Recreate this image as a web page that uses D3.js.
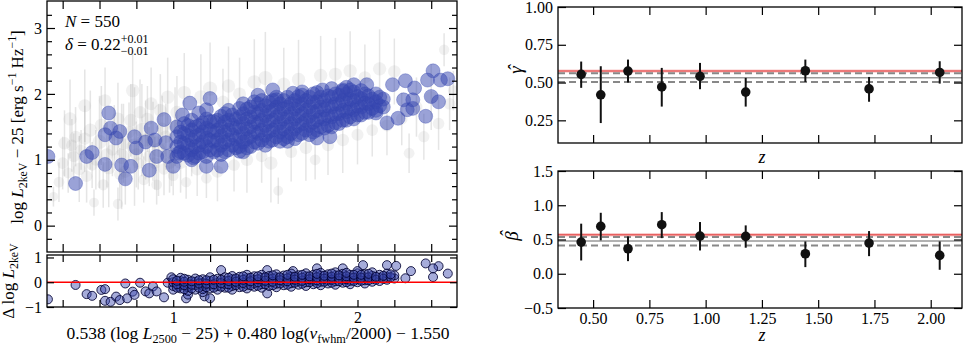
<!DOCTYPE html>
<html>
<head>
<meta charset="utf-8">
<script src="https://cdn.jsdelivr.net/npm/d3@7"></script>
<style>
  body { margin: 0; background: #fff; }
  svg { display: block; }
</style>
</head>
<body>
<script>
// ---- data ----
// left panel: grey comparison sample [x, y, yerr]
var greyPts = [
  [0.35,0.44,0.15],[0.38,0.66,0.3],[0.40,0.95,0.4],[0.41,1.25,0.5],[0.43,0.80,0.3],[0.44,1.62,0.6],
  [0.46,1.05,0.35],[0.47,1.35,0.45],[0.49,0.86,0.5],[0.50,1.15,0.3],[0.52,1.82,0.55],[0.53,0.75,0.4],
  [0.55,1.45,0.6],[0.57,0.35,0.2],[0.58,1.00,0.45],[0.60,1.27,0.7],[0.62,0.62,0.35],[0.63,1.90,0.5],
  [0.65,0.88,0.6],[0.67,1.15,0.4],[0.70,0.33,0.25],[0.70,1.62,0.55],[0.72,1.05,0.8],[0.74,0.82,0.5],
  [0.76,1.42,0.45],[0.78,2.05,0.6],[0.79,1.20,0.9],[0.81,0.95,0.4],[0.82,1.72,0.5],[0.84,0.70,0.35],
  [0.85,1.30,0.6],[0.87,1.05,0.45],[0.88,1.85,0.55],[0.91,0.62,0.3],[0.92,1.15,0.7],[0.94,1.47,0.5],
  [0.95,0.86,0.4],[0.97,1.95,0.6],[0.99,1.10,0.5],[1.00,0.76,0.3],[1.02,1.72,0.55],[1.04,0.95,0.45],
  [1.06,2.02,0.6],[1.07,0.66,0.25],[1.10,1.25,0.5],[1.13,0.85,0.4],[1.15,1.95,0.65],[1.18,0.72,0.3],
  [1.20,2.08,0.7],[1.24,0.82,0.45],[1.27,1.88,0.5],[1.30,2.12,0.6],[1.33,0.92,0.4],[1.36,2.00,0.55],
  [1.40,1.00,0.5],[1.44,2.18,0.65],[1.48,1.05,0.4],[1.50,2.24,0.7],[1.53,0.95,0.6],[1.57,0.53,0.2],
  [1.60,2.15,0.55],[1.64,1.12,0.45],[1.68,2.22,0.6],[1.72,1.18,0.5],[1.77,1.00,0.3],[1.80,2.28,0.6],
  [1.84,1.22,0.45],[1.88,2.30,0.55],[1.92,1.30,0.5],[1.96,2.35,0.6],[2.00,1.38,0.45],[2.04,2.25,0.5],
  [2.08,1.45,0.4],[2.12,2.38,0.6],[2.16,1.52,0.45],[2.20,2.34,0.5],[2.24,1.62,0.4],[2.28,1.10,0.3],
  [2.32,1.80,0.45],[2.36,1.35,0.35],[2.40,1.95,0.5],[2.44,1.55,0.4],[2.47,2.67,0.25],[2.50,1.85,0.4],
  [2.52,2.05,0.3],
  [0.45,1.22,0.4],[0.52,1.32,0.5],[0.56,0.92,0.35],[0.61,1.52,0.6],[0.64,1.08,0.5],[0.68,1.38,0.45],
  [0.71,0.78,0.4],[0.73,1.25,0.6],[0.77,1.60,0.55],[0.80,1.08,0.5],[0.83,1.45,0.7],[0.86,1.62,0.5],
  [0.89,1.28,0.6],[0.90,0.95,0.4],[0.93,1.75,0.55],[0.96,1.35,0.5],[0.98,0.95,0.45],[1.01,1.50,0.6]
];

// left panel: blue sample, isolated points [x, y]
var bluePts = [
  [0.32,1.05],[0.47,0.64],[0.53,1.05],[0.56,1.11],[0.63,0.93],[0.63,1.38],[0.65,1.71],[0.66,1.48],
  [0.69,1.33],[0.71,1.43],[0.72,0.92],[0.74,0.71],[0.77,0.90],[0.79,1.35],[0.80,1.18],[0.85,1.27],
  [0.87,0.84],[0.88,1.48],[0.90,1.30],[0.91,1.05],[0.95,1.61],[0.96,1.26],[0.97,1.05],[1.00,0.90],
  [1.03,1.10],[1.05,1.68],[1.09,1.86],[1.14,1.71],[1.18,1.76],[1.20,1.93],[1.18,0.90],[1.26,0.90],
  [1.11,1.03],[1.36,1.13],[1.54,2.06],[1.56,1.91],[1.65,2.01],[1.70,2.03],[1.62,1.28],[1.78,1.33],
  [1.85,1.35],[1.81,2.06],[1.92,2.06],[1.98,2.14],[2.05,2.14],[2.10,1.71],[2.16,1.56],[2.19,2.14],
  [2.22,1.63],[2.26,2.20],[2.27,1.76],[2.30,1.78],[2.31,2.09],[2.30,1.91],[2.25,1.91],[2.37,1.66],
  [2.38,2.21],[2.41,2.35],[2.40,1.96],[2.44,1.88],[2.45,2.21],[2.49,2.23]
];

// left panel: blue sample inside the dense band, one column per x
var blueCols = [
  [1.02,[1.05,1.20,1.35,1.50]], [1.06,[1.10,1.25,1.40,1.55]], [1.10,[1.00,1.15,1.30,1.45,1.60]],
  [1.14,[1.10,1.22,1.38,1.52]], [1.18,[1.05,1.20,1.33,1.48,1.62]], [1.22,[1.12,1.28,1.42,1.58]],
  [1.26,[1.08,1.22,1.36,1.50,1.66]], [1.30,[1.15,1.30,1.45,1.60,1.75]], [1.34,[1.18,1.32,1.48,1.62]],
  [1.38,[1.12,1.27,1.40,1.55,1.70,1.85]], [1.42,[1.20,1.35,1.50,1.65,1.80]],
  [1.46,[1.25,1.40,1.55,1.70,1.85,1.98]], [1.50,[1.22,1.37,1.52,1.67,1.82]],
  [1.54,[1.30,1.45,1.60,1.75,1.90]], [1.58,[1.28,1.42,1.56,1.70,1.85]], [1.62,[1.35,1.50,1.65,1.80,1.95]],
  [1.66,[1.32,1.47,1.62,1.77,1.90]], [1.70,[1.40,1.55,1.70,1.85,1.98]], [1.74,[1.38,1.52,1.66,1.80,1.95]],
  [1.78,[1.45,1.60,1.74,1.88,2.02]], [1.82,[1.48,1.62,1.76,1.90]], [1.86,[1.50,1.65,1.80,1.95,2.08]],
  [1.90,[1.55,1.70,1.84,1.98]], [1.94,[1.60,1.73,1.86,2.00,2.10]], [1.98,[1.62,1.76,1.90,2.03]],
  [2.02,[1.68,1.80,1.93,2.05]], [2.06,[1.72,1.85,1.97]], [2.10,[1.75,1.88,2.00]], [2.14,[1.80,1.92]],
  [1.04,[1.12,1.27,1.42]], [1.08,[1.07,1.22,1.37,1.52]], [1.12,[1.05,1.20,1.35,1.50]],
  [1.16,[1.12,1.27,1.42,1.56]], [1.20,[1.15,1.30,1.45,1.58]], [1.24,[1.15,1.30,1.45,1.60]],
  [1.28,[1.12,1.27,1.42,1.57,1.70]], [1.32,[1.22,1.38,1.53,1.68]], [1.36,[1.20,1.35,1.50,1.65,1.78]],
  [1.40,[1.18,1.32,1.47,1.62,1.77]], [1.44,[1.27,1.42,1.57,1.72,1.88]], [1.48,[1.30,1.45,1.60,1.75,1.90]],
  [1.52,[1.28,1.43,1.58,1.73,1.87]], [1.56,[1.35,1.50,1.65,1.80,1.95]], [1.60,[1.32,1.47,1.62,1.77,1.90]],
  [1.64,[1.40,1.55,1.70,1.85]], [1.68,[1.38,1.52,1.67,1.82,1.96]], [1.72,[1.45,1.60,1.75,1.90]],
  [1.76,[1.42,1.57,1.72,1.87,2.00]], [1.80,[1.50,1.65,1.80,1.95]], [1.84,[1.52,1.67,1.82,1.97]],
  [1.88,[1.56,1.70,1.85,2.00]], [1.92,[1.60,1.75,1.90,2.04]], [1.96,[1.65,1.78,1.92,2.06]],
  [2.00,[1.68,1.82,1.96]], [2.04,[1.72,1.86,2.00]], [2.08,[1.78,1.92]], [2.12,[1.82,1.95]]
];

// residual panel: isolated points [x, dy]
var residPts = [
  [0.32,-0.69],[0.47,-0.11],[0.53,-0.48],[0.56,-0.55],[0.61,-0.31],[0.63,-0.28],[0.63,-0.75],[0.66,-0.79],
  [0.69,-0.58],[0.71,-0.72],[0.74,-0.05],[0.75,-0.65],[0.78,-0.38],[0.79,-0.51],[0.82,-0.02],[0.85,-0.37],
  [0.87,-0.45],[0.89,-0.17],[0.91,-0.37],[0.95,-0.61],[0.97,-0.02],[0.99,0.20],[1.03,-0.17],[1.07,-0.65],
  [1.08,-0.50],[1.17,-0.57],[1.20,-0.65],[1.26,0.49],[1.51,-0.45],[1.51,0.49],[1.65,0.45],[1.78,0.56],
  [1.92,0.56],[2.03,0.69],[2.16,0.69],[2.21,0.66],[2.26,0.16],[2.29,0.45],[2.37,0.76],[2.41,0.21],
  [2.44,0.65],[2.49,0.35],[2.41,0.56]
];

// residual panel: dense band, one column per x
var residCols = [
  [1.00,[-0.30,-0.15,0.00,0.12]], [1.04,[-0.25,-0.10,0.05,0.18]], [1.08,[-0.35,-0.20,-0.05,0.10]],
  [1.12,[-0.30,-0.12,0.02,0.15]], [1.16,[-0.40,-0.28,-0.15,-0.02,0.12]], [1.20,[-0.25,-0.10,0.05,0.20]],
  [1.24,[-0.30,-0.15,0.00,0.14]], [1.28,[-0.22,-0.08,0.06,0.20]], [1.32,[-0.30,-0.15,-0.02,0.12,0.25]],
  [1.36,[-0.20,-0.06,0.08,0.22]], [1.40,[-0.25,-0.10,0.03,0.16,0.30]], [1.44,[-0.18,-0.04,0.10,0.24]],
  [1.48,[-0.22,-0.08,0.05,0.18,0.30]], [1.52,[-0.15,0.00,0.12,0.25]], [1.56,[-0.20,-0.06,0.08,0.20,0.32]],
  [1.60,[-0.12,0.02,0.14,0.27]], [1.64,[-0.18,-0.04,0.10,0.22,0.35]], [1.68,[-0.10,0.04,0.16,0.28]],
  [1.72,[-0.15,0.00,0.12,0.24,0.36]], [1.76,[-0.08,0.06,0.18,0.30]], [1.80,[-0.12,0.02,0.14,0.26,0.38]],
  [1.84,[-0.05,0.08,0.20,0.32]], [1.88,[-0.10,0.04,0.16,0.28,0.40]], [1.92,[-0.02,0.10,0.22,0.34]],
  [1.96,[-0.08,0.06,0.18,0.30]], [2.00,[0.00,0.12,0.24,0.36,0.45]], [2.04,[-0.05,0.08,0.20,0.32]],
  [2.08,[0.02,0.14,0.26,0.40]], [2.12,[0.05,0.18,0.30]], [2.16,[0.10,0.22,0.35]], [2.20,[0.15,0.28]],
  [1.02,[-0.22,-0.08,0.06]], [1.06,[-0.28,-0.12,0.02,0.14]], [1.10,[-0.25,-0.10,0.04]],
  [1.14,[-0.22,-0.05,0.08]], [1.18,[-0.20,-0.06,0.08]], [1.22,[-0.22,-0.08,0.10]],
  [1.26,[-0.18,-0.04,0.10]], [1.30,[-0.22,-0.08,0.05,0.18]], [1.34,[-0.12,0.02,0.15]],
  [1.38,[-0.18,-0.03,0.10,0.24]], [1.42,[-0.12,0.04,0.18]], [1.46,[-0.14,0.00,0.12,0.24]],
  [1.50,[-0.08,0.06,0.20]], [1.54,[-0.12,0.02,0.15,0.28]], [1.58,[-0.05,0.08,0.20]],
  [1.62,[-0.10,0.04,0.16,0.30]], [1.66,[-0.02,0.10,0.22]], [1.70,[-0.06,0.06,0.18,0.30]],
  [1.74,[0.00,0.12,0.24]], [1.78,[-0.04,0.08,0.20,0.34]], [1.82,[0.02,0.14,0.26]],
  [1.86,[-0.02,0.10,0.22,0.35]], [1.90,[0.04,0.16,0.28]], [1.94,[0.00,0.12,0.24,0.38]],
  [1.98,[0.05,0.18,0.30]], [2.02,[0.06,0.18,0.30]], [2.06,[0.08,0.20,0.34]], [2.10,[0.10,0.22]],
  [2.14,[0.14,0.26]], [2.18,[0.20,0.32]]
];

// right panels: redshift bins
var zBins    = [0.447, 0.534, 0.655, 0.805, 0.975, 1.178, 1.443, 1.726, 2.040];
var gammaVal = [0.554, 0.419, 0.576, 0.471, 0.541, 0.437, 0.578, 0.458, 0.567];
var gammaHi  = [0.639, 0.608, 0.652, 0.597, 0.630, 0.531, 0.652, 0.537, 0.641];
var gammaLo  = [0.465, 0.232, 0.500, 0.341, 0.456, 0.341, 0.504, 0.373, 0.493];
var betaVal  = [0.462, 0.691, 0.365, 0.716, 0.550, 0.545, 0.292, 0.448, 0.268];
var betaHi   = [0.731, 0.890, 0.545, 0.900, 0.755, 0.706, 0.472, 0.623, 0.472];
var betaLo   = [0.194, 0.487, 0.184, 0.520, 0.340, 0.380, 0.097, 0.257, 0.058];
// global fit: [lo, best, hi]
var gammaRed  = [0.566, 0.576, 0.586];
var gammaGrey = [0.503, 0.532, 0.561];
var betaRed   = [0.545, 0.570, 0.592];
var betaGrey  = [0.414, 0.477, 0.535];

var mainXTicks = [0.4,0.6,0.8,1.0,1.2,1.4,1.6,1.8,2.0,2.2,2.4];
var mainYMajor = [0,1,2,3];
var mainYMinor = [-0.2,0.2,0.4,0.6,0.8,1.2,1.4,1.6,1.8,2.2,2.4,2.6,2.8,3.2];
var residYTicks = [-1,0,1];
var zTicks = [0.5,0.75,1.0,1.25,1.5,1.75,2.0];
var gammaTicks = [0.25,0.5,0.75,1.0];
var betaTicks = [-0.5,0,0.5,1.0,1.5];

// ---- setup ----
var FONT = "'Liberation Serif', 'DejaVu Serif', serif";
var svg = d3.select("body").append("svg").attr("width", 964).attr("height", 345);

function flatCols(cols) {
  return d3.merge(cols.map(function(c) { return c[1].map(function(v) { return [c[0], v]; }); }));
}
var blueAll = bluePts.concat(flatCols(blueCols));
var residAll = residPts.concat(flatCols(residCols));

// scales
var x = d3.scaleLinear().domain([0.315, 2.54]).range([47, 457]);
var y = d3.scaleLinear().domain([-0.4, 3.41]).range([252, 1]);
var yr = d3.scaleLinear().domain([-1, 1.1]).range([307, 255]);
var xz = d3.scaleLinear().domain([0.344, 2.139]).range([558, 962]);
var yg = d3.scaleLinear().domain([0.1, 1.0]).range([143, 7]);
var yb = d3.scaleLinear().domain([-0.5, 1.5]).range([308, 171]);
var rGrey = d3.scaleLinear().domain([0.1, 0.9]).range([4.5, 8]);

function clip(id, xs, ys) {
  svg.append("clipPath").attr("id", id).append("rect")
    .attr("x", xs.range()[0]).attr("y", ys.range()[1])
    .attr("width", xs.range()[1] - xs.range()[0]).attr("height", ys.range()[0] - ys.range()[1]);
}
clip("cmain", x, y);
clip("cres", x, yr);

// axis with inward ticks
function addAxis(kind, scale, pos, vals, len, fmt) {
  var horiz = (kind === d3.axisBottom || kind === d3.axisTop);
  var ax = kind(scale).tickValues(vals).tickSizeInner(-len).tickSizeOuter(0).tickPadding(5)
    .tickFormat(fmt || function() { return ""; });
  var g = svg.append("g")
    .attr("transform", horiz ? "translate(0," + pos + ")" : "translate(" + pos + ",0)")
    .call(ax);
  g.select(".domain").remove();
  g.selectAll("line").attr("stroke", "#000").attr("stroke-width", 1.2);
  g.selectAll("text").attr("font-family", FONT).attr("font-size", 16).attr("fill", "#000");
  return g;
}
function fourSides(xs, ys, xv, yv, len, xfmt, yfmt) {
  addAxis(d3.axisBottom, xs, ys.range()[0], xv, len, xfmt);
  addAxis(d3.axisTop, xs, ys.range()[1], xv, len);
  addAxis(d3.axisLeft, ys, xs.range()[0], yv, len, yfmt);
  addAxis(d3.axisRight, ys, xs.range()[1], yv, len);
}
function frame(xs, ys) {
  svg.append("rect")
    .attr("x", xs.range()[0]).attr("y", ys.range()[1])
    .attr("width", xs.range()[1] - xs.range()[0]).attr("height", ys.range()[0] - ys.range()[1])
    .attr("fill", "none").attr("stroke", "#000").attr("stroke-width", 1.3);
}
var minus = function(v) { return String(v).replace("-", "\u2212"); };

// rich text: parts [{t, s: 'sub'|'sup', i: italic}]
function rich(sel, parts, fs) {
  var off = 0;
  parts.forEach(function(p) {
    var tgt = p.s === "sub" ? fs * 0.22 : p.s === "sup" ? -fs * 0.4 : 0;
    var sp = sel.append("tspan").text(p.t).attr("dy", tgt - off);
    off = tgt;
    if (p.s) sp.attr("font-size", fs * 0.7);
    if (p.i) sp.attr("font-style", "italic");
  });
}

// ---- main panel ----
var gm = svg.append("g").attr("clip-path", "url(#cmain)");

gm.selectAll(".gerr").data(greyPts).enter().append("line")
  .attr("x1", function(d) { return x(d[0]); }).attr("x2", function(d) { return x(d[0]); })
  .attr("y1", function(d) { return y(d[1] - d[2]); }).attr("y2", function(d) { return y(d[1] + d[2]); })
  .attr("stroke", "#aaa").attr("stroke-opacity", 0.3).attr("stroke-width", 1.5);
gm.selectAll(".gpt").data(greyPts).enter().append("circle")
  .attr("cx", function(d) { return x(d[0]); }).attr("cy", function(d) { return y(d[1]); })
  .attr("r", function(d) { return rGrey(d[2]); })
  .attr("fill", "#999").attr("fill-opacity", 0.14);

gm.selectAll(".bpt").data(blueAll).enter().append("circle")
  .attr("cx", function(d) { return x(d[0]); }).attr("cy", function(d) { return y(d[1]); })
  .attr("r", 7)
  .attr("fill", "#3545b0").attr("fill-opacity", 0.5)
  .attr("stroke", "#3545b0").attr("stroke-opacity", 0.35).attr("stroke-width", 1);

fourSides(x, y, mainXTicks, mainYMajor, 8, null, function(d) { return d; });
addAxis(d3.axisLeft, y, 47, mainYMinor, 5);
addAxis(d3.axisRight, y, 457, mainYMinor, 5);
frame(x, y);

// annotations
var t1 = svg.append("text").attr("x", 65).attr("y", 27).attr("font-family", FONT).attr("font-size", 17);
rich(t1, [{t: "N", i: true}, {t: " = 550"}], 17);
var t2 = svg.append("text").attr("x", 65).attr("y", 50).attr("font-family", FONT).attr("font-size", 17);
t2.append("tspan").text("\u03b4").attr("font-style", "italic");
t2.append("tspan").text(" = 0.22");
var sup = t2.append("tspan").text("+0.01").attr("font-size", 12).attr("dy", -7);
var w = sup.node().getComputedTextLength();
t2.append("tspan").text("\u22120.01").attr("font-size", 12).attr("dy", 12).attr("dx", -w);

var ylab = svg.append("text").attr("transform", "translate(23,127) rotate(-90)")
  .attr("text-anchor", "middle").attr("font-family", FONT).attr("font-size", 17);
rich(ylab, [{t: "log "}, {t: "L", i: true}, {t: "2keV", s: "sub"}, {t: " \u2212 25 [erg s"},
  {t: "\u22121", s: "sup"}, {t: " Hz"}, {t: "\u22121", s: "sup"}, {t: "]"}], 17);

// ---- residual panel ----
var gr = svg.append("g").attr("clip-path", "url(#cres)");
gr.selectAll(".rpt").data(residAll).enter().append("circle")
  .attr("cx", function(d) { return x(d[0]); }).attr("cy", function(d) { return yr(d[1]); })
  .attr("r", 4.5)
  .attr("fill", "#3a46ad").attr("fill-opacity", 0.45)
  .attr("stroke", "#000030").attr("stroke-opacity", 0.85).attr("stroke-width", 1);
gr.append("line").attr("x1", 47).attr("x2", 457).attr("y1", yr(0)).attr("y2", yr(0))
  .attr("stroke", "#f00").attr("stroke-width", 1.6);

fourSides(x, yr, mainXTicks, residYTicks, 7, function(d) { return (d === 1 || d === 2) ? d : ""; }, minus);
frame(x, yr);

var rlab = svg.append("text").attr("transform", "translate(14,281) rotate(-90)")
  .attr("text-anchor", "middle").attr("font-family", FONT).attr("font-size", 17);
rich(rlab, [{t: "\u0394 log "}, {t: "L", i: true}, {t: "2keV", s: "sub"}], 17);

var xlab = svg.append("text").attr("x", 258).attr("y", 339)
  .attr("text-anchor", "middle").attr("font-family", FONT).attr("font-size", 17.5);
rich(xlab, [{t: "0.538 (log "}, {t: "L", i: true}, {t: "2500", s: "sub"}, {t: " \u2212 25) + 0.480  log("},
  {t: "v", i: true}, {t: "fwhm", s: "sub"}, {t: "/2000) \u2212 1.550"}], 17.5);

// ---- right panels ----
function zPanel(ys, vals, lo, hi, red, grey, yticks, yfmt, showX) {
  svg.append("rect").attr("x", xz.range()[0]).attr("width", xz.range()[1] - xz.range()[0])
    .attr("y", ys(red[2])).attr("height", ys(red[0]) - ys(red[2]))
    .attr("fill", "#f4a6a6").attr("fill-opacity", 0.7);
  svg.append("line").attr("x1", xz.range()[0]).attr("x2", xz.range()[1])
    .attr("y1", ys(red[1])).attr("y2", ys(red[1])).attr("stroke", "#e86060").attr("stroke-width", 1.5);
  grey.forEach(function(v, i) {
    svg.append("line").attr("x1", xz.range()[0]).attr("x2", xz.range()[1])
      .attr("y1", ys(v)).attr("y2", ys(v))
      .attr("stroke", i === 1 ? "#999" : "#888").attr("stroke-width", i === 1 ? 1.5 : 2)
      .attr("stroke-dasharray", i === 1 ? null : "7,4");
  });
  var idx = d3.range(zBins.length);
  svg.selectAll(null).data(idx).enter().append("line")
    .attr("x1", function(i) { return xz(zBins[i]); }).attr("x2", function(i) { return xz(zBins[i]); })
    .attr("y1", function(i) { return ys(lo[i]); }).attr("y2", function(i) { return ys(hi[i]); })
    .attr("stroke", "#111").attr("stroke-width", 2);
  svg.selectAll(null).data(idx).enter().append("circle")
    .attr("cx", function(i) { return xz(zBins[i]); }).attr("cy", function(i) { return ys(vals[i]); })
    .attr("r", 4.8).attr("fill", "#111");
  fourSides(xz, ys, zTicks, yticks, 8, showX ? d3.format(".2f") : null, yfmt);
  frame(xz, ys);
}
zPanel(yg, gammaVal, gammaLo, gammaHi, gammaRed, gammaGrey, gammaTicks, d3.format(".2f"), false);
zPanel(yb, betaVal, betaLo, betaHi, betaRed, betaGrey, betaTicks, function(d) { return minus(d3.format(".1f")(d)); }, true);

svg.append("text").attr("x", 762).attr("y", 163).attr("text-anchor", "middle")
  .attr("font-family", FONT).attr("font-size", 18).attr("font-style", "italic").text("z");
svg.append("text").attr("x", 762).attr("y", 341).attr("text-anchor", "middle")
  .attr("font-family", FONT).attr("font-size", 18).attr("font-style", "italic").text("z");

// hatted symbols: glyph plus a separate circumflex above it
function hatLabel(px, py, glyph, lift) {
  var g = svg.append("g").attr("transform", "translate(" + px + "," + py + ") rotate(-90)")
    .attr("font-family", FONT).attr("font-size", 19).attr("font-style", "italic");
  g.append("text").attr("text-anchor", "middle").text(glyph);
  g.append("text").attr("text-anchor", "middle").attr("x", 2).attr("y", -lift).text("\u02c6");
}
hatLabel(522, 70, "\u03b3", 1);
hatLabel(518, 236, "\u03b2", 5);
</script>
</body>
</html>
